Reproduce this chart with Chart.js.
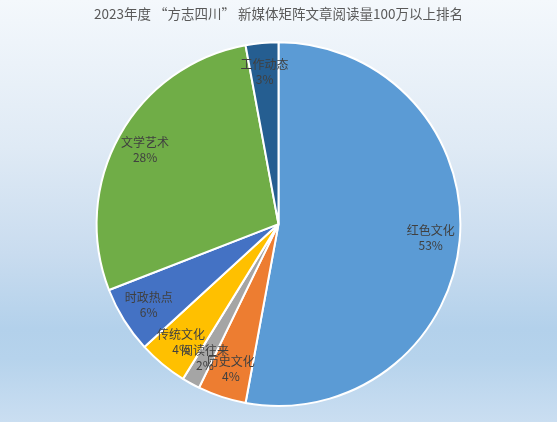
<!DOCTYPE html>
<html>
<head>
<meta charset="utf-8">
<script src="https://cdn.jsdelivr.net/npm/chart.js@4"></script>
<style>
  html, body { margin: 0; padding: 0; }
  body {
    width: 557px; height: 422px; overflow: hidden;
    background: linear-gradient(to bottom, #f4f8fc 0%, #dfeaf5 35%, #c9dcef 60%, #b3d1eb 78%, #b6d3ec 85%, #cadef1 100%);
  }
  #wrap { position: relative; width: 557px; height: 422px; }
</style>
</head>
<body>
<div id="wrap"><canvas id="pieChart"></canvas></div>
<script>
const labels = ['红色文化', '历史文化', '阅读往来', '传统文化', '时政热点', '文学艺术', '工作动态'];
const values = [52.9, 4.3, 1.6, 4.4, 5.9, 28.0, 2.9];
const colors = ['#5b9bd5', '#ed7d31', '#a5a5a5', '#ffc000', '#4472c4', '#70ad47', '#255e91'];

const FONT = '"Noto Sans CJK SC", "Noto Sans", sans-serif';

// slice labels: name + percent, inside the pie
const sliceLabels = {
  id: 'sliceLabels',
  afterDatasetsDraw(chart) {
    const ctx = chart.ctx;
    const meta = chart.getDatasetMeta(0);
    const total = values.reduce((a, b) => a + b, 0);
    ctx.save();
    ctx.textAlign = 'center';
    ctx.textBaseline = 'middle';
    ctx.fillStyle = '#404040';
    ctx.font = '12px ' + FONT;
    meta.data.forEach((arc, i) => {
      const mid = (arc.startAngle + arc.endAngle) / 2;
      const r = arc.outerRadius * 0.84;
      const x = arc.x + Math.cos(mid) * r;
      const y = arc.y + Math.sin(mid) * r;
      const pct = Math.round(values[i] / total * 100) + '%';
      ctx.fillText(labels[i], x, y - 7.5);
      ctx.fillText(pct, x, y + 7.5);
    });
    ctx.restore();
  }
};

new Chart(document.getElementById('pieChart'), {
  type: 'pie',
  data: {
    labels,
    datasets: [{
      data: values,
      backgroundColor: colors,
      borderColor: '#ffffff',
      borderWidth: 2
    }]
  },
  options: {
    responsive: true,
    maintainAspectRatio: false,
    animation: false,
    layout: { padding: { top: 0, bottom: 15 } },
    plugins: {
      legend: { display: false },
      tooltip: { enabled: false },
      title: {
        display: true,
        text: '2023年度 “方志四川” 新媒体矩阵文章阅读量100万以上排名',
        color: '#595959',
        font: { family: FONT, size: 13.5, weight: 'normal' },
        padding: { top: 6, bottom: 19 }
      }
    }
  },
  plugins: [sliceLabels]
});
</script>
</body>
</html>
